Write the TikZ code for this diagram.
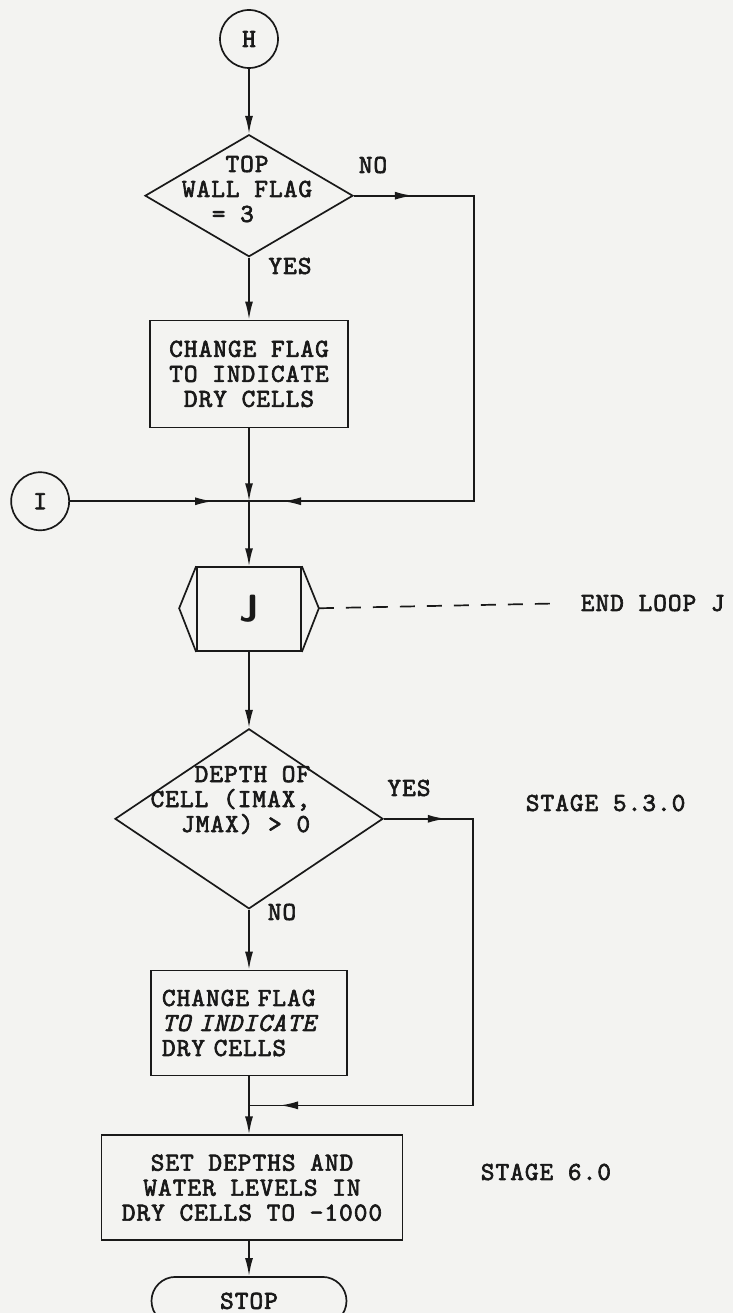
\documentclass[tikz,border=0pt]{standalone}
\usepackage{fontspec}
\usepackage{xcolor}
\usepackage{tikz}
\usetikzlibrary{shapes.geometric, shapes.misc, arrows.meta, positioning, decorations.markings}

\setmonofont{lmmono10-regular.otf}[ItalicFont=lmmono10-italic.otf, FakeBold=2.5, LetterSpace=4]

\definecolor{paper}{RGB}{243,243,241}
\definecolor{ink}{RGB}{25,25,25}

\begin{document}
\begin{tikzpicture}[
    x=1pt, y=-1pt,
    line width=1.7pt, color=ink,
    every node/.style={font=\fontsize{26}{25}\selectfont\ttfamily, inner sep=0pt},
    conn/.style={draw, circle, minimum size=58pt},
    box/.style={draw, rectangle, align=center},
    decision/.style={draw, diamond},
    term/.style={draw, rounded rectangle, minimum width=195pt, minimum height=48pt},
    loopbox/.style={draw, rectangle, minimum width=104pt, minimum height=84pt, font=\fontsize{38}{40}\selectfont\sffamily\bfseries},
    arrow/.style={-{Latex[length=18pt, width=8pt]}},
    tipat/.style={postaction={decorate}, decoration={markings, mark=at position #1 with {\arrow{Latex[length=18pt, width=8pt]}}}},
    tipsat/.style 2 args={postaction={decorate}, decoration={markings,
        mark=at position #1 with {\arrow{Latex[length=18pt, width=8pt]}},
        mark=at position #2 with {\arrow{Latex[length=18pt, width=8pt]}}}}
]
    \path[fill=paper, use as bounding box] (0,0) rectangle (733,1313);

    % Main column
    \node[conn] (H) at (249,39) {H};
    \node[decision, minimum width=208pt, minimum height=122pt, below=65pt of H] (wallflag) {};
    \node[box, minimum width=198pt, minimum height=107pt, below=62pt of wallflag] (chflag1) {CHANGE FLAG\\TO INDICATE\\DRY CELLS};
    \coordinate[below=73pt of chflag1] (jn);
    \node[conn, left=179pt of jn] (I) {I};
    \node[loopbox, below=65pt of jn] (jloop) {J};
    \node[decision, minimum width=268pt, minimum height=180pt, below=76pt of jloop] (depth) {};
    \node[box, align=left, text width=174pt, minimum width=196pt, minimum height=105pt, below=60pt of depth] (chflag2) {CHANGE FLAG\\\textit{TO INDICATE}\\DRY CELLS};
    \coordinate[below=29pt of chflag2] (jn2);
    \node[box, minimum width=301pt, minimum height=105pt, below=58pt of chflag2, xshift=3pt] (setdry) {SET DEPTHS AND\\WATER LEVELS IN\\DRY CELLS TO -1000};
    \node[term, below=35pt of setdry, xshift=-3pt] (stop) {STOP};

    % Texts in the decisions
    \node[align=center] (wallflagtxt) at (247,189) {TOP\\WALL FLAG\\= 3\phantom{00}};
    \node[align=right, anchor=east] (depthtxt) at (311,800) {DEPTH OF\\CELL (IMAX,\\JMAX) > 0};

    % Sides of the loop box
    \draw (jloop.north west) -- ++(-17,42) coordinate (jleft) -- (jloop.south west);
    \draw (jloop.north east) -- ++(17,42) coordinate (jright) -- (jloop.south east);

    % Labels and stages
    \node (no1) at (373,165) {NO};
    \node (yes1) at (290,266) {YES};
    \node (yes2) at (409,788) {YES};
    \node (no2) at (282,912) {NO};
    \node[anchor=west] (endj) at (580,603) {END LOOP J};
    \node[anchor=west] (stage53) at (525,803) {STAGE 5.3.0};
    \node[anchor=west] (stage6) at (480,1172) {STAGE 6.0};

    % Arrows
    \draw[arrow] (H) -- (wallflag);
    \draw[arrow] (wallflag) -- (chflag1);
    \draw[arrow] (chflag1) -- (jn);
    \draw[tipsat={59pt}{-34pt}] (wallflag.east) -- ++(120,0) |- (jn);
    \draw[tipat=-36pt] (I) -- (jn);
    \draw[arrow] (jn) -- (jloop);
    \draw[dash pattern=on 15pt off 12pt, shorten >=23pt] (jright) -- (endj.west);
    \draw[arrow] (jloop) -- (depth);
    \draw[arrow] (depth) -- (chflag2);
    \draw[tipsat={62pt}{-31pt}] (depth.east) -- ++(89,0) |- (jn2);
    \draw[arrow] (chflag2) -- (chflag2 |- setdry.north);
    \draw[arrow] (stop |- setdry.south) -- (stop);

\end{tikzpicture}
\end{document}
